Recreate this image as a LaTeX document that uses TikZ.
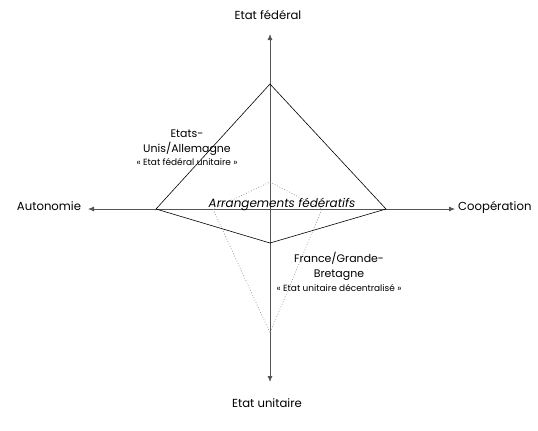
\documentclass[tikz,border=0pt]{standalone}
\usepackage{fontspec}
\setmainfont{Poppins}
\usetikzlibrary{arrows.meta,positioning}
\definecolor{axisgray}{HTML}{555555}
\definecolor{dotgray}{HTML}{8C8C8C}

\begin{document}
\begin{tikzpicture}[
        x=1bp,y=-1bp,
        node distance=1bp,
        axis/.style={-{Latex[length=6bp,width=5bp]},thick,axisgray},
        outline/.style={black,line width=.6bp,line join=miter},
        dots/.style={dotgray,dotted,line width=.7bp},
        ends/.style={font=\fontsize{11.7}{14}\selectfont,inner sep=0pt},
        lbl/.style={font=\fontsize{11}{14.5}\selectfont,align=center,inner sep=0pt},
        quote/.style={font=\fontsize{9}{10}\selectfont,inner sep=0pt}
      ]
        \useasboundingbox (0,0) rectangle (538,430);
        % axes
        \coordinate (o) at (270,209);
        \coordinate (ytop) at (270,34);
        \coordinate (ybot) at (270,382);
        \coordinate (xleft) at (88,209);
        \coordinate (xright) at (455,209);
        \draw[axis] (o) -- (ytop);
        \draw[axis] (o) -- (ybot);
        \draw[axis] (o) -- (xleft);
        \draw[axis] (o) -- (xright);
        % solid shape
        \coordinate (f1) at (270,84);
        \coordinate (f2) at (386,209);
        \coordinate (f3) at (270,243);
        \coordinate (f4) at (156,209);
        \draw[outline] (f1) -- (f2) -- (f3) -- (f4) -- cycle;
        % dotted shape
        \coordinate (d1) at (270,182);
        \coordinate (d2) at (322,209);
        \coordinate (d3) at (270,333);
        \coordinate (d4) at (213,209);
        \draw[dots] (d1) -- (d2) -- (d3) -- (d4) -- cycle;
        % axis labels
        \node[ends,anchor=base] (fed) at (268,19) {Etat fédéral};
        \node[ends,anchor=base] (unit) at (267,407) {Etat unitaire};
        \node[ends,anchor=base] (auto) at (49,210) {Autonomie};
        \node[ends,anchor=base west] (coop) at (458,210) {Coopération};
        % cases
        \node[lbl,anchor=base] (usa) at (187,152) {Etats-\\Unis/Allemagne};
        \node[quote,below=3bp of usa] (usaq) {« Etat fédéral unitaire »};
        \node[lbl,anchor=base] (fra) at (339,277) {France/Grande-\\Bretagne};
        \node[quote,below=4bp of fra] (fraq) {« Etat unitaire décentralisé »};
        \node[lbl,anchor=base,font=\fontsize{12}{14}\selectfont\itshape] (arr) at (282,207)
          {Arrangements fédératifs};
      \end{tikzpicture}
\end{document}
